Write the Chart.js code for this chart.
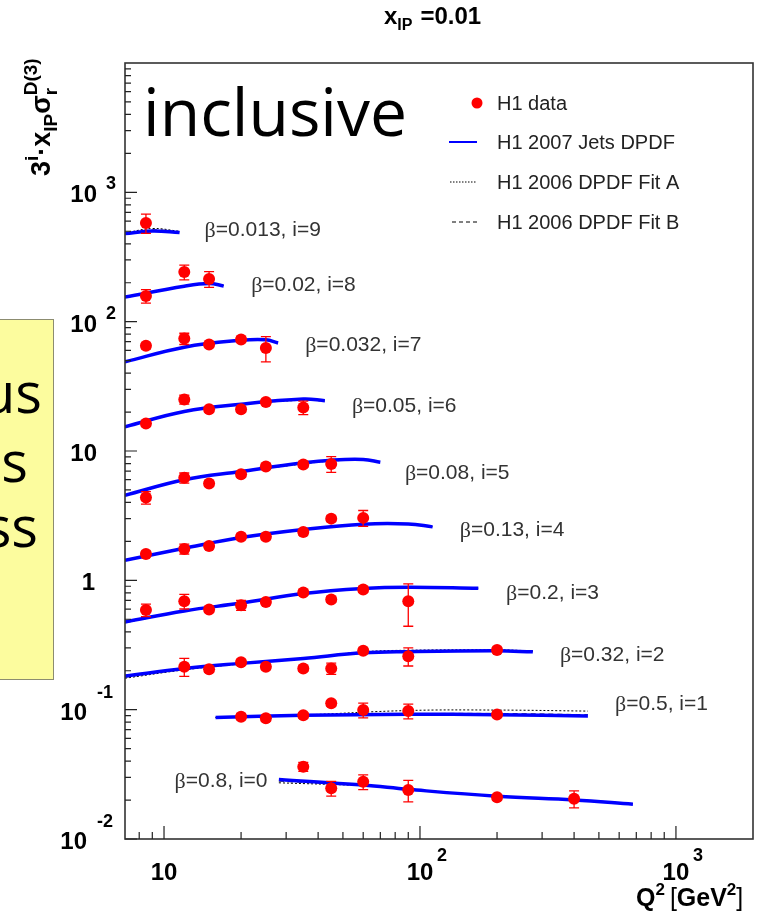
<!DOCTYPE html>
<html>
<head>
<meta charset="utf-8">
<script src="https://cdn.jsdelivr.net/npm/chart.js@4.4.0/dist/chart.umd.min.js"></script>
<style>
body { margin: 0; background: #fff; overflow: hidden; }
#wrap { position: relative; width: 762px; height: 917px; }
#chart { position: absolute; left: 0; top: 0; }
#note { position: absolute; left: -10px; top: 319px; width: 62px; height: 359px; border: 1px solid #8c8c70; background: #fcfc9e; overflow: hidden; font-family: 'Open Sans'; font-size: 56px; line-height: 1; color: #000; }
#note span { position: absolute; white-space: nowrap; }
#incl { position: absolute; left: 143px; top: 77px; font-family: 'Open Sans'; font-size: 66px; line-height: 1; color: #000; }
</style>
</head>
<body>
<div id="wrap">
	<canvas id="chart" width="762" height="917"></canvas>
	<div id="incl">inclusive</div>
	<div id="note">
		<span style="right:11px; top:43px">us</span>
		<span style="right:25px; top:112px">s</span>
		<span style="right:15px; top:177px">ss</span>
	</div>
</div>
<script>
// Q2 bins of the measurement [GeV^2]
const q2Bins = [8.5, 12, 15, 20, 25, 35, 45, 60, 90, 200, 400];

// beta of each curve, index = i (scaled by 3^i)
const betaValues = ['0.8', '0.5', '0.32', '0.2', '0.13', '0.08', '0.05', '0.032', '0.02', '0.013'];

// H1 data, 3^i * xIP * sigma_r, one row per i, columns = q2Bins
const h1Data = [
	[null, null, null, null, null, 0.0362, 0.0247, 0.0277, 0.0239, 0.0210, 0.0205],
	[null, null, null, 0.0883, 0.0859, 0.0904, 0.112, 0.0993, 0.0975, 0.0918, null],
	[null, 0.215, 0.205, 0.233, 0.215, 0.208, 0.208, 0.285, 0.259, 0.289, null],
	[0.589, 0.69, 0.596, 0.643, 0.679, 0.805, 0.711, 0.851, 0.69, null, null],
	[1.6, 1.75, 1.84, 2.17, 2.17, 2.36, 3.0, 3.04, null, null, null],
	[4.37, 6.2, 5.6, 6.6, 7.6, 7.87, 7.95, null, null, null, null],
	[16.3, 25, 21, 21, 23.9, 21.7, null, null, null, null, null],
	[65, 74, 66.5, 72.8, 62.7, null, null, null, null, null, null],
	[158, 242, 214, null, null, null, null, null, null, null, null],
	[580, null, null, null, null, null, null, null, null, null, null]
];

// relative errors, same layout
const h1Err = [
	[0, 0, 0, 0, 0, 0.08, 0.13, 0.13, 0.19, 0.05, 0.15],
	[0, 0, 0, 0.05, 0.05, 0.05, 0.05, 0.13, 0.13, 0.05, 0],
	[0, 0.16, 0.05, 0.05, 0.05, 0.05, 0.1, 0.05, 0.16, 0.05, 0],
	[0.11, 0.13, 0.05, 0.09, 0.05, 0.05, 0.05, 0.05, 0.36, 0, 0],
	[0.05, 0.09, 0.05, 0.05, 0.05, 0.05, 0.05, 0.14, 0, 0, 0],
	[0.11, 0.09, 0.05, 0.05, 0.05, 0.05, 0.14, 0, 0, 0, 0],
	[0.05, 0.08, 0.05, 0.05, 0.05, 0.12, 0, 0, 0, 0, 0],
	[0.05, 0.1, 0.04, 0.05, 0.22, 0, 0, 0, 0, 0, 0],
	[0.12, 0.13, 0.14, 0, 0, 0, 0, 0, 0, 0, 0],
	[0.17, 0, 0, 0, 0, 0, 0, 0, 0, 0, 0]
];

// H1 2007 Jets DPDF curves
const jetsQ2 = [
	[28.1, 60, 90, 200, 400, 679],
	[15.9, 35, 90, 200, 453],
	[7.04, 12, 20, 35, 60, 90, 200, 276],
	[7.04, 12, 20, 35, 60, 90, 169],
	[7.04, 12, 20, 35, 60, 90, 112],
	[7.04, 12, 20, 35, 45, 60, 70],
	[7.04, 12, 20, 35, 42.5],
	[7.04, 12, 20, 25, 27.9],
	[7.04, 12, 15, 17.1],
	[7.04, 9, 11.5]
];
const jetsVal = [
	[0.0289, 0.0261, 0.0242, 0.0214, 0.0200, 0.0186],
	[0.0871, 0.0904, 0.0920, 0.0914, 0.0894],
	[0.182, 0.208, 0.228, 0.249, 0.275, 0.281, 0.285, 0.280],
	[0.477, 0.58, 0.667, 0.79, 0.865, 0.885, 0.87],
	[1.43, 1.77, 2.14, 2.47, 2.72, 2.73, 2.59],
	[4.55, 6.0, 6.95, 8.1, 8.5, 8.6, 8.2],
	[15.4, 20.2, 23, 25.2, 24.5],
	[48.9, 63.5, 71.8, 72.5, 68.4],
	[155, 188, 197, 189],
	[480, 503, 490]
];
// H1 2006 Fit A (dotted), same Q2 nodes as the jets curves
const fitAVal = [
	[0.0272, 0.0258, 0.0243, 0.0216, 0.0202, 0.0188],
	[0.0870, 0.0910, 0.0985, 0.0993, 0.0975],
	[0.175, 0.203, 0.226, 0.250, 0.280, 0.288, 0.290, 0.285],
	[0.470, 0.575, 0.665, 0.785, 0.86, 0.882, 0.87],
	[1.42, 1.76, 2.12, 2.44, 2.70, 2.73, 2.60],
	[4.50, 5.95, 6.9, 7.95, 8.35, 8.5, 8.2],
	[15.2, 20.0, 22.9, 24.7, 24.3],
	[48.5, 63.2, 71.5, 72.3, 68.5],
	[153, 189, 198, 191],
	[485, 525, 500]
];
// H1 2006 Fit B (dashed)
const fitBVal = [
	[0.0280, 0.0259, 0.0242, 0.0215, 0.0201, 0.0187],
	[0.0870, 0.0905, 0.0930, 0.0935, 0.0915],
	[0.178, 0.205, 0.227, 0.249, 0.276, 0.283, 0.287, 0.282],
	[0.474, 0.578, 0.666, 0.79, 0.865, 0.885, 0.87],
	[1.43, 1.77, 2.13, 2.46, 2.72, 2.73, 2.60],
	[4.52, 5.98, 6.92, 8.05, 8.45, 8.55, 8.2],
	[15.3, 20.1, 23, 25.0, 24.4],
	[48.7, 63.3, 71.6, 72.4, 68.4],
	[154, 188, 197, 190],
	[482, 513, 495]
];

// where the beta labels sit (Q2, value)
const labelQ2 = [11.0, 578, 352, 217, 143, 87.3, 54.2, 35.6, 21.9, 14.4];
const labelVal = [0.0281, 0.110, 0.264, 0.796, 2.44, 6.73, 22.2, 65.8, 191, 508];

// axis tick labels
const yTickVals = [0.01, 0.1, 1, 10, 100, 1000];
const yTickBase = ['10', '10', '1', '10', '10', '10'];
const yTickExp = ['-2', '-1', '', '', '2', '3'];
const xTickVals = [10, 100, 1000];
const xTickExp = ['', '2', '3'];

const legendItems = ['H1 data', 'H1 2007 Jets DPDF', 'H1 2006 DPDF Fit A', 'H1 2006 DPDF Fit B'];

const datasets = [];
for (let i = 0; i < betaValues.length; i++) {
	const pts = [], errs = [];
	q2Bins.forEach((q, k) => {
		if (h1Data[i][k] != null) {
			pts.push({x: q, y: h1Data[i][k]});
			errs.push(h1Err[i][k]);
		}
	});
	const curve = vals => jetsQ2[i].map((q, k) => ({x: q, y: vals[k]}));
	datasets.push({
		label: 'H1 data i=' + i, data: pts, errs: errs, showLine: false,
		pointRadius: 6, pointBorderWidth: 0, pointBackgroundColor: '#ff0000', order: 0
	});
	datasets.push({
		label: 'Jets i=' + i, data: curve(jetsVal[i]), showLine: true, pointRadius: 0,
		borderColor: '#0000ff', borderWidth: 3.5, tension: 0.4, order: 1
	});
	datasets.push({
		label: 'Fit A i=' + i, data: curve(fitAVal[i]), showLine: true, pointRadius: 0,
		borderColor: '#000', borderWidth: 1, borderDash: [2, 2], tension: 0.4, order: 2
	});
	datasets.push({
		label: 'Fit B i=' + i, data: curve(fitBVal[i]), showLine: true, pointRadius: 0,
		borderColor: '#333', borderWidth: 1, borderDash: [5, 4], tension: 0.4, order: 3
	});
}

const SANS = '"Liberation Sans", Arial, sans-serif';

// draws a run of text pieces; each piece {t, f, dy, stay}
function rich(ctx, parts, x, y) {
	let cx = x;
	parts.forEach(p => {
		ctx.font = p.f;
		ctx.fillText(p.t, cx, y + (p.dy || 0));
		if (!p.stay) cx += ctx.measureText(p.t).width + (p.gap || 0);
	});
	return cx;
}

const decor = {
	id: 'decor',
	afterDatasetsDraw(chart) {
		const ctx = chart.ctx, ys = chart.scales.y;
		ctx.save();
		ctx.strokeStyle = '#ff0000';
		ctx.lineWidth = 1.3;
		chart.data.datasets.forEach((ds, di) => {
			if (!ds.errs) return;
			const meta = chart.getDatasetMeta(di);
			meta.data.forEach((pt, k) => {
				const e = ds.errs[k];
				if (!e) return;
				const v = ds.data[k].y;
				const y1 = ys.getPixelForValue(v * (1 + e));
				const y2 = ys.getPixelForValue(v * (1 - e));
				ctx.beginPath();
				ctx.moveTo(pt.x, y1); ctx.lineTo(pt.x, y2);
				ctx.moveTo(pt.x - 5, y1); ctx.lineTo(pt.x + 5, y1);
				ctx.moveTo(pt.x - 5, y2); ctx.lineTo(pt.x + 5, y2);
				ctx.stroke();
			});
		});
		ctx.restore();
	},
	afterDraw(chart) {
		const ctx = chart.ctx, xs = chart.scales.x, ys = chart.scales.y;
		const a = chart.chartArea;
		ctx.save();

		// frame
		ctx.strokeStyle = '#333';
		ctx.lineWidth = 1.6;
		ctx.strokeRect(a.left, a.top, a.right - a.left, a.bottom - a.top);

		// ticks, pointing inwards
		ctx.lineWidth = 1.2;
		ctx.strokeStyle = '#222';
		ctx.beginPath();
		for (let d = -2; d < 4; d++) {
			for (let m = 1; m < 10; m++) {
				const py = ys.getPixelForValue(m * Math.pow(10, d));
				ctx.moveTo(a.left, py);
				ctx.lineTo(a.left + (m === 1 ? 12 : 6), py);
			}
		}
		for (let d = 0; d < 4; d++) {
			for (let m = 1; m < 10; m++) {
				const v = m * Math.pow(10, d);
				if (v <= xs.min || v >= xs.max) continue;
				const px = xs.getPixelForValue(v);
				ctx.moveTo(px, a.bottom);
				ctx.lineTo(px, a.bottom - (m === 1 ? 13 : 7));
			}
		}
		ctx.stroke();

		// tick labels
		ctx.fillStyle = '#000';
		ctx.textBaseline = 'alphabetic';
		yTickVals.forEach((v, k) => {
			const py = ys.getPixelForValue(v);
			const ex = yTickExp[k];
			const neg = ex.startsWith('-');
			ctx.font = 'bold 24px ' + SANS;
			ctx.textAlign = 'right';
			ctx.fillText(yTickBase[k], ex === '' ? (yTickBase[k] === '1' ? 95 : 97) : (neg ? 87 : 97), py + 10);
			if (ex) {
				ctx.font = 'bold 18px ' + SANS;
				ctx.textAlign = 'left';
				ctx.fillText(ex, neg ? 97 : 106, py + (neg ? -12 : -3));
			}
		});
		xTickVals.forEach((v, k) => {
			const px = xs.getPixelForValue(v);
			ctx.font = 'bold 24px ' + SANS;
			ctx.textAlign = 'center';
			ctx.fillText('10', px, 880);
			if (xTickExp[k]) {
				ctx.font = 'bold 18px ' + SANS;
				ctx.textAlign = 'left';
				ctx.fillText(xTickExp[k], px + 17, 861);
			}
		});

		// beta labels
		ctx.textAlign = 'left';
		ctx.textBaseline = 'middle';
		ctx.fillStyle = '#333';
		betaValues.forEach((b, i) => {
			const px = xs.getPixelForValue(labelQ2[i]);
			const py = ys.getPixelForValue(labelVal[i]);
			rich(ctx, [
				{t: '\u03b2', f: '22px "Liberation Serif", serif', dy: 1},
				{t: '=' + b + ', i=' + i, f: '21px ' + SANS}
			], px, py);
		});

		// legend
		const lx0 = 449, lx1 = 477, tx = 497;
		const rows = [103, 142, 182, 222];
		ctx.fillStyle = '#ff0000';
		ctx.beginPath();
		ctx.arc(lx1, rows[0], 5.5, 0, Math.PI * 2);
		ctx.fill();
		ctx.strokeStyle = '#0000ff';
		ctx.lineWidth = 2;
		ctx.beginPath(); ctx.moveTo(lx0, rows[1]); ctx.lineTo(lx1, rows[1]); ctx.stroke();
		ctx.strokeStyle = '#000';
		ctx.lineWidth = 1;
		ctx.setLineDash([1.5, 1.5]);
		ctx.beginPath(); ctx.moveTo(lx0 + 1, rows[2]); ctx.lineTo(lx1, rows[2]); ctx.stroke();
		ctx.setLineDash([4, 3]);
		ctx.beginPath(); ctx.moveTo(lx0 + 3, rows[3]); ctx.lineTo(lx1, rows[3]); ctx.stroke();
		ctx.setLineDash([]);
		ctx.fillStyle = '#222';
		ctx.font = '20px ' + SANS;
		legendItems.forEach((t, k) => ctx.fillText(t, tx, rows[k] + 1));

		// title
		ctx.fillStyle = '#000';
		ctx.textBaseline = 'alphabetic';
		rich(ctx, [
			{t: 'x', f: 'bold 24px ' + SANS},
			{t: 'IP', f: 'bold 16px ' + SANS, dy: 6, gap: 8},
			{t: '=0.01', f: 'bold 24px ' + SANS}
		], 384, 24);

		// x axis title
		rich(ctx, [
			{t: 'Q', f: 'bold 25px ' + SANS},
			{t: '2', f: 'bold 17px ' + SANS, dy: -11, gap: 5},
			{t: '[', f: '25px ' + SANS},
			{t: 'GeV', f: 'bold 25px ' + SANS},
			{t: '2', f: 'bold 17px ' + SANS, dy: -11},
			{t: ']', f: '25px ' + SANS}
		], 636, 906);

		// y axis title, rotated
		ctx.translate(50, 176);
		ctx.rotate(-Math.PI / 2);
		rich(ctx, [
			{t: '3', f: 'bold 27px ' + SANS},
			{t: 'i', f: 'bold 19px ' + SANS, dy: -12},
			{t: '\u00b7', f: 'bold 27px ' + SANS},
			{t: 'x', f: 'bold 27px ' + SANS},
			{t: 'IP', f: 'bold 19px ' + SANS, dy: 7},
			{t: '\u03c3', f: 'bold 27px ' + SANS},
			{t: 'r', f: 'bold 19px ' + SANS, dy: 7, stay: true},
			{t: 'D(3)', f: 'bold 19px ' + SANS, dy: -13}
		], 0, 0);

		ctx.restore();
	}
};

new Chart(document.getElementById('chart'), {
	type: 'scatter',
	data: { datasets: datasets },
	options: {
		responsive: false,
		animation: false,
		devicePixelRatio: 1,
		layout: { padding: { left: 125, top: 63, right: 9, bottom: 78 } },
		plugins: { legend: { display: false }, tooltip: { enabled: false } },
		scales: {
			x: { type: 'logarithmic', min: 7.04, max: 2000, display: false },
			y: { type: 'logarithmic', min: 0.01, max: 10000, display: false }
		}
	},
	plugins: [decor]
});
</script>
</body>
</html>
